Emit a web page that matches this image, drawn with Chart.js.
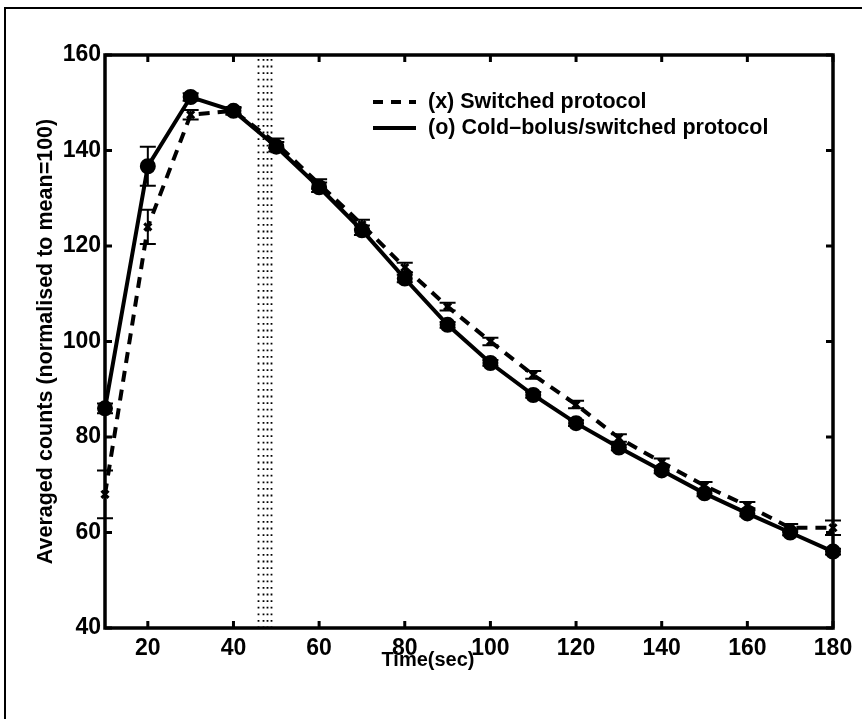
<!DOCTYPE html>
<html>
<head>
<meta charset="utf-8">
<script src="https://cdn.jsdelivr.net/npm/chart.js@4.4.1/dist/chart.umd.min.js"></script>
<style>
  html, body { margin: 0; padding: 0; background: #fff; }
  canvas { display: block; }
</style>
</head>
<body>
<canvas id="chart" width="862" height="719"></canvas>
<script>
// sampling times (sec)
const timeSec = [10, 20, 30, 40, 50, 60, 70, 80, 90, 100, 110, 120, 130, 140, 150, 160, 170, 180];

// (x) switched protocol
const switchedCounts = [68, 124, 147.5, 148.3, 141.5, 133, 124.5, 115.5, 107.3, 100, 93, 86.8, 79.8, 74.7, 69.8, 65.6, 61, 61];
const switchedErr    = [5, 3.6, 1, 0.8, 1, 1, 1, 1, 0.8, 0.8, 0.8, 0.8, 0.8, 0.8, 0.8, 0.8, 0.8, 1.5];

// (o) cold-bolus / switched protocol
const coldBolusCounts = [86, 136.7, 151.2, 148.3, 140.8, 132.3, 123.3, 113.2, 103.5, 95.5, 88.8, 82.9, 77.8, 73, 68.2, 64, 60, 56];
const coldBolusErr    = [1, 4.1, 0.8, 0.6, 1, 1, 1, 0.8, 0.6, 0.6, 0.6, 0.6, 0.6, 0.6, 0.6, 0.6, 0.6, 0.6];

const xTicks = [20, 40, 60, 80, 100, 120, 140, 160, 180];
const yTicks = [40, 60, 80, 100, 120, 140, 160];

// dotted marker band near 47 s
const bandLines = [45.7, 46.8, 47.8, 48.8];

const legendLabels = ['(x) Switched protocol', '(o) Cold\u2013bolus/switched protocol'];

const FONT = '"Liberation Sans", Arial, Helvetica, sans-serif';

// frame, inward ticks, dotted band, error bars, legend, page border
const decor = {
    id: 'decor',
    beforeDraw(chart) {
        const ctx = chart.ctx;
        ctx.save();
        ctx.strokeStyle = '#000';
        ctx.lineWidth = 2;
        ctx.beginPath();
        ctx.moveTo(5, 719);
        ctx.lineTo(5, 8);
        ctx.lineTo(862, 8);
        ctx.stroke();
        ctx.restore();
    },
    beforeDatasetsDraw(chart) {
        const ctx = chart.ctx;
        const a = chart.chartArea;
        const x = chart.scales.x;
        ctx.save();
        ctx.strokeStyle = '#000';
        ctx.lineWidth = 1.8;
        ctx.setLineDash([1.8, 4.8]);
        bandLines.forEach(v => {
            const px = Math.round(x.getPixelForValue(v)) + 0.5;
            ctx.beginPath();
            ctx.moveTo(px, a.top + 4);
            ctx.lineTo(px, a.bottom);
            ctx.stroke();
        });
        ctx.restore();
    },
    afterDatasetsDraw(chart) {
        const ctx = chart.ctx;
        const x = chart.scales.x, y = chart.scales.y;
        ctx.save();
        ctx.strokeStyle = '#000';
        ctx.lineWidth = 2;
        const bars = (vals, errs) => {
            vals.forEach((v, i) => {
                const px = x.getPixelForValue(timeSec[i]);
                const hi = y.getPixelForValue(v + errs[i]);
                const lo = y.getPixelForValue(v - errs[i]);
                ctx.beginPath();
                ctx.moveTo(px, hi); ctx.lineTo(px, lo);
                ctx.moveTo(px - 8, hi); ctx.lineTo(px + 8, hi);
                ctx.moveTo(px - 8, lo); ctx.lineTo(px + 8, lo);
                ctx.stroke();
            });
        };
        bars(switchedCounts, switchedErr);
        bars(coldBolusCounts, coldBolusErr);
        ctx.restore();
    },
    afterDraw(chart) {
        const ctx = chart.ctx;
        const a = chart.chartArea;
        const x = chart.scales.x, y = chart.scales.y;
        ctx.save();
        ctx.strokeStyle = '#000';
        ctx.lineWidth = 3.5;
        ctx.strokeRect(a.left, a.top, a.right - a.left, a.bottom - a.top);
        ctx.lineWidth = 3;
        ctx.beginPath();
        xTicks.forEach(v => {
            const px = x.getPixelForValue(v);
            ctx.moveTo(px, a.bottom); ctx.lineTo(px, a.bottom - 7);
            ctx.moveTo(px, a.top); ctx.lineTo(px, a.top + 7);
        });
        yTicks.forEach(v => {
            const py = y.getPixelForValue(v);
            ctx.moveTo(a.left, py); ctx.lineTo(a.left + 7, py);
            ctx.moveTo(a.right, py); ctx.lineTo(a.right - 7, py);
        });
        ctx.stroke();

        // x axis title
        ctx.fillStyle = '#000';
        ctx.font = 'bold 20px ' + FONT;
        ctx.textAlign = 'center';
        ctx.textBaseline = 'middle';
        ctx.fillText('Time(sec)', 428, 660);

        // legend
        ctx.lineWidth = 4;
        ctx.setLineDash([10, 8]);
        ctx.beginPath(); ctx.moveTo(373, 102); ctx.lineTo(416, 102); ctx.stroke();
        ctx.setLineDash([]);
        ctx.beginPath(); ctx.moveTo(373, 128); ctx.lineTo(416, 128); ctx.stroke();
        ctx.font = 'bold 21.5px ' + FONT;
        ctx.textAlign = 'left';
        ctx.fillText(legendLabels[0], 428, 102);
        ctx.fillText(legendLabels[1], 428, 128);
        ctx.restore();
    }
};

new Chart(document.getElementById('chart').getContext('2d'), {
    type: 'line',
    data: {
        labels: timeSec,
        datasets: [{
            label: legendLabels[0],
            data: timeSec.map((t, i) => ({ x: t, y: switchedCounts[i] })),
            borderColor: '#000',
            backgroundColor: '#000',
            borderWidth: 4,
            borderDash: [11, 8],
            pointStyle: 'crossRot',
            pointRadius: 5,
            pointBorderWidth: 3,
            clip: false
        }, {
            label: legendLabels[1],
            data: timeSec.map((t, i) => ({ x: t, y: coldBolusCounts[i] })),
            borderColor: '#000',
            backgroundColor: '#000',
            borderWidth: 4,
            pointStyle: 'circle',
            pointRadius: 6,
            clip: false
        }]
    },
    options: {
        responsive: false,
        animation: false,
        layout: { padding: { top: 55, right: 29, left: 0, bottom: 0 } },
        plugins: {
            legend: { display: false },
            tooltip: { enabled: false }
        },
        scales: {
            x: {
                type: 'linear',
                min: 10,
                max: 180,
                afterFit: s => { s.height = 91; },
                afterBuildTicks: s => { s.ticks = xTicks.map(v => ({ value: v })); },
                grid: { display: false, drawTicks: false },
                border: { display: false },
                ticks: {
                    color: '#000',
                    padding: 7,
                    maxRotation: 0,
                    font: { family: FONT, size: 23, weight: 'bold' }
                }
            },
            y: {
                min: 40,
                max: 160,
                afterFit: s => { s.width = 105; },
                afterBuildTicks: s => { s.ticks = yTicks.map(v => ({ value: v })); },
                grid: { display: false, drawTicks: false },
                border: { display: false },
                ticks: {
                    color: '#000',
                    padding: 4,
                    font: { family: FONT, size: 23, weight: 'bold' }
                },
                title: {
                    display: true,
                    text: 'Averaged counts (normalised to mean=100)',
                    color: '#000',
                    padding: { top: 33 },
                    font: { family: FONT, size: 21.5, weight: 'bold' }
                }
            }
        }
    },
    plugins: [decor]
});
</script>
</body>
</html>
